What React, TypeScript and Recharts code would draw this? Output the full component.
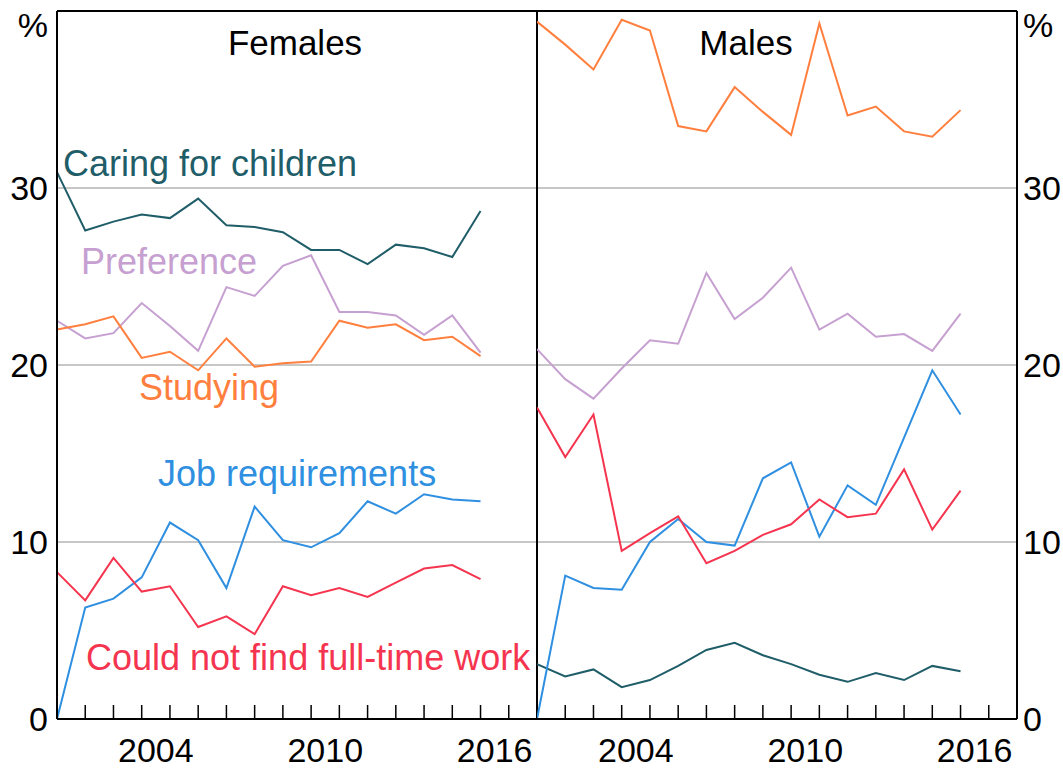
import React from 'react';
import { LineChart, Line, XAxis, YAxis, CartesianGrid, ReferenceLine } from 'recharts';

// survey years (financial-year data, plotted at the start of each year)
const years = [2001, 2002, 2003, 2004, 2005, 2006, 2007, 2008, 2009, 2010, 2011, 2012, 2013, 2014, 2015, 2016];

const femaleCaring = [30.9, 27.6, 28.1, 28.5, 28.3, 29.4, 27.9, 27.8, 27.5, 26.5, 26.5, 25.7, 26.8, 26.6, 26.1, 28.7];
const femalePreference = [22.5, 21.5, 21.8, 23.5, 22.2, 20.8, 24.4, 23.9, 25.6, 26.2, 23.0, 23.0, 22.8, 21.7, 22.8, 20.7];
const femaleStudying = [22.0, 22.3, 22.75, 20.4, 20.75, 19.7, 21.5, 19.9, 20.1, 20.2, 22.5, 22.1, 22.3, 21.4, 21.6, 20.5];
const femaleJob = [0, 6.3, 6.8, 8.0, 11.1, 10.1, 7.4, 12.0, 10.1, 9.7, 10.5, 12.3, 11.6, 12.7, 12.4, 12.3];
const femaleCouldNot = [8.3, 6.7, 9.1, 7.2, 7.5, 5.2, 5.8, 4.8, 7.5, 7.0, 7.4, 6.9, 7.7, 8.5, 8.7, 7.9];

const maleCaring = [3.1, 2.4, 2.8, 1.8, 2.2, 3.0, 3.9, 4.3, 3.6, 3.1, 2.5, 2.1, 2.6, 2.2, 3.0, 2.7];
const malePreference = [20.9, 19.2, 18.1, 19.8, 21.4, 21.2, 25.2, 22.6, 23.8, 25.5, 22.0, 22.9, 21.6, 21.75, 20.8, 22.9];
const maleStudying = [39.4, 38.1, 36.7, 39.5, 38.9, 33.5, 33.2, 35.7, 34.3, 33.0, 39.3, 34.1, 34.6, 33.2, 32.9, 34.4];
const maleJob = [0, 8.1, 7.4, 7.3, 10.0, 11.3, 10.0, 9.8, 13.6, 14.5, 10.3, 13.2, 12.1, 15.9, 19.7, 17.2];
const maleCouldNot = [17.6, 14.8, 17.2, 9.5, 10.5, 11.45, 8.8, 9.5, 10.4, 11.0, 12.4, 11.4, 11.6, 14.1, 10.7, 12.9];

const xTicks = [2002, 2003, 2004, 2005, 2006, 2007, 2008, 2009, 2010, 2011, 2012, 2013, 2014, 2015, 2016, 2017];
const xLabels = [2004, 2010, 2016];
const yTicks = [0, 10, 20, 30, 40];

const COLORS = {
  caring: '#1f5d68',
  preference: '#c6a0d0',
  studying: '#ff7f3e',
  job: '#2f8fe0',
  couldNot: '#f5354f',
};

const FONT = '"Liberation Sans", Arial, sans-serif';
const PLOT_W = 480;
const X_MIN = 2001;
const X_MAX = 2018;
const HALF_YEAR = PLOT_W / (X_MAX - X_MIN) / 2;

const femaleData = years.map((year, i) => ({
  year,
  caring: femaleCaring[i],
  preference: femalePreference[i],
  studying: femaleStudying[i],
  job: femaleJob[i],
  couldNot: femaleCouldNot[i],
}));

const maleData = years.map((year, i) => ({
  year,
  caring: maleCaring[i],
  preference: malePreference[i],
  studying: maleStudying[i],
  job: maleJob[i],
  couldNot: maleCouldNot[i],
}));

const XTick = (props: any) => {
  const { x, y, payload } = props;
  const showLabel = xLabels.includes(payload.value);
  return (
    <g>
      <line x1={x} y1={y} x2={x} y2={y - 14} stroke="#000" strokeWidth={1.5} />
      {showLabel && (
        <text x={x + HALF_YEAR} y={y + 43} textAnchor="middle" fontSize={34} fontFamily={FONT} fill="#000">
          {payload.value}
        </text>
      )}
    </g>
  );
};

const makeYTick = (anchor: 'start' | 'end') => (props: any) => {
  const { x, y, payload } = props;
  const isTop = payload.value === 40;
  return (
    <text
      x={x}
      y={isTop ? y + 14 : y}
      textAnchor={anchor}
      dominantBaseline="central"
      fontSize={34}
      fontFamily={FONT}
      fill="#000"
    >
      {isTop ? '%' : payload.value}
    </text>
  );
};

const seriesKeys: (keyof typeof COLORS)[] = ['caring', 'preference', 'studying', 'job', 'couldNot'];

const Panel: React.FC<{ data: any[]; side: 'left' | 'right' }> = ({ data, side }) => {
  const isLeft = side === 'left';
  return (
    <LineChart
      width={isLeft ? 540 : 526}
      height={771}
      data={data}
      margin={{ top: 11, right: isLeft ? 3 : 0, left: 0, bottom: 0 }}
    >
      <CartesianGrid vertical={false} stroke="#b5b5b5" strokeWidth={1.5} />
      <XAxis
        dataKey="year"
        type="number"
        domain={[X_MIN, X_MAX]}
        ticks={xTicks}
        interval={0}
        height={52}
        tickSize={0}
        tickMargin={0}
        tickLine={false}
        tick={<XTick />}
        axisLine={{ stroke: '#000', strokeWidth: 2 }}
      />
      <YAxis
        orientation={isLeft ? 'left' : 'right'}
        type="number"
        domain={[0, 40]}
        ticks={yTicks}
        interval={0}
        width={isLeft ? 57 : 46}
        tickSize={0}
        tickMargin={isLeft ? 9 : 6}
        tickLine={false}
        tick={makeYTick(isLeft ? 'end' : 'start')}
        axisLine={{ stroke: '#000', strokeWidth: 2 }}
      />
      <ReferenceLine y={40} stroke="#000" strokeWidth={2} />
      <ReferenceLine x={isLeft ? X_MAX : X_MIN} stroke="#000" strokeWidth={2} />
      {seriesKeys.map((key) => (
        <Line
          key={key}
          type="linear"
          dataKey={key}
          stroke={COLORS[key]}
          strokeWidth={2}
          dot={false}
          isAnimationActive={false}
        />
      ))}
    </LineChart>
  );
};

const titleStyle = { fontSize: 35, fontFamily: FONT };
const labelStyle = { fontSize: 36, fontFamily: FONT };

export default function App() {
  return (
    <div style={{ position: 'absolute', left: 0, top: 0, width: 1063, height: 771, background: '#fff' }}>
      <div style={{ position: 'absolute', left: 0, top: 0 }}>
        <Panel data={femaleData} side="left" />
      </div>
      <div style={{ position: 'absolute', left: 537, top: 0 }}>
        <Panel data={maleData} side="right" />
      </div>
      <svg
        width={1063}
        height={771}
        style={{ position: 'absolute', left: 0, top: 0, pointerEvents: 'none' }}
      >
        <text x={295} y={55} textAnchor="middle" fill="#000" {...titleStyle}>Females</text>
        <text x={746} y={55} textAnchor="middle" fill="#000" {...titleStyle}>Males</text>
        <text x={63} y={176} fill={COLORS.caring} {...labelStyle}>Caring for children</text>
        <text x={81} y={274} fill={COLORS.preference} {...labelStyle}>Preference</text>
        <text x={139} y={400} fill={COLORS.studying} {...labelStyle}>Studying</text>
        <text x={158} y={486} fill={COLORS.job} {...labelStyle}>Job requirements</text>
        <text x={86} y={670} fill={COLORS.couldNot} {...labelStyle}>Could not find full-time work</text>
      </svg>
    </div>
  );
}
